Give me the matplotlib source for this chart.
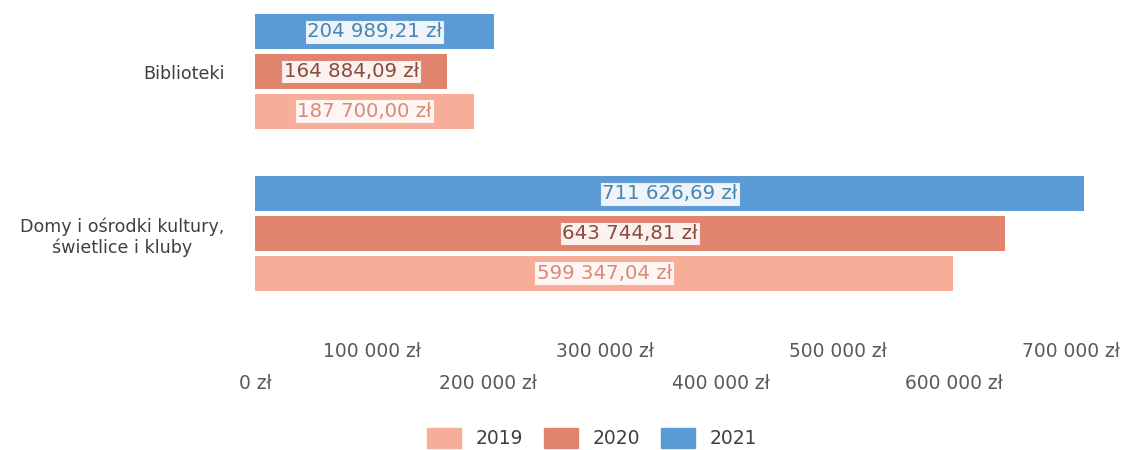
import matplotlib.pyplot as plt
import numpy as np

categories = ["Biblioteki", "Domy i ośrodki kultury,\nświetlice i kluby"]
years = ["2019", "2020", "2021"]
values_2019 = [187700.00, 599347.04]
values_2020 = [164884.09, 643744.81]
values_2021 = [204989.21, 711626.69]
tick_values = [0, 100000, 200000, 300000, 400000, 500000, 600000, 700000]

series = [values_2019, values_2020, values_2021]
colors = ["#F7AE98", "#E0846E", "#5B9BD5"]
text_colors = ["#D88A78", "#8A4A3C", "#4A86B0"]
offsets = [0.245, 0.0, -0.245]


def pln(v, decimals=0):
    s = f"{v:,.{decimals}f}".replace(",", " ").replace(".", ",")
    return s + " zł"


fig = plt.figure(figsize=(11.22, 4.5), dpi=100)
ax = fig.add_axes([255 / 1122, 1 - 300 / 450, (1094 - 255) / 1122, 290 / 450])

y = np.arange(len(categories))
for vals, col, tcol, off in zip(series, colors, text_colors, offsets):
    ax.barh(y + off, vals, height=0.215, color=col)
    for yi, v in zip(y, vals):
        ax.text(v / 2, yi + off, pln(v, 2), ha="center", va="center",
                fontsize=14.2, color=tcol,
                bbox=dict(boxstyle="square,pad=0.12", facecolor="white",
                          edgecolor=col, linewidth=0.8, alpha=0.9))

ax.set_xlim(0, 720000)
ax.set_ylim(1.41, -0.38)
ax.set_yticks(y)
ax.set_yticklabels(categories, fontsize=12.6, color="#404040", ha="right",
                   multialignment="center")
ax.tick_params(axis="y", length=0, pad=22)

# staggered x tick labels: odd on the upper row, even on the lower row
odd = tick_values[1::2]
even = tick_values[0::2]
ax.set_xticks(odd)
ax.set_xticklabels([pln(v) for v in odd])
ax.set_xticks(even, minor=True)
ax.set_xticklabels([pln(v) for v in even], minor=True)
ax.tick_params(axis="x", which="major", length=0, pad=30, labelsize=13.4, labelcolor="#595959")
ax.tick_params(axis="x", which="minor", length=0, pad=53, labelsize=13.4, labelcolor="#595959")

for s in ax.spines.values():
    s.set_visible(False)

handles = [plt.Rectangle((0, 0), 1, 1, color=c) for c in colors]
fig.legend(handles, years, loc="center", bbox_to_anchor=(592 / 1122, 1 - 438 / 450),
           ncol=3, frameon=False, fontsize=13.5, handlelength=1.8, handleheight=1.3,
           handletextpad=0.8, columnspacing=1.1, labelcolor="#404040")

fig.savefig("out.png", dpi=100)
